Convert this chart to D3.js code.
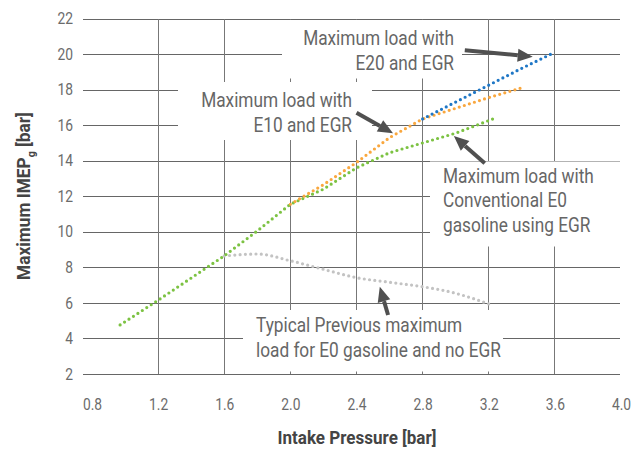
<!DOCTYPE html>
<html>
<head>
<meta charset="utf-8">
<script src="https://cdn.jsdelivr.net/npm/d3@7"></script>
<style>
  body { margin: 0; background: #fff; }
  svg { display: block; }
  text { font-family: Roboto, "Liberation Sans", sans-serif; }
  .tick text { fill: #6b6b6b; font-size: 16px; }
  .axis-title { fill: #444; font-weight: bold; font-size: 18px; }
  .note { fill: #666; font-size: 20px; }
</style>
</head>
<body>
<svg id="chart"></svg>
<script>
// Intake pressure [bar] vs maximum IMEPg [bar]
const xE0Egr = [0.97, 1.2, 1.6, 1.8, 2.0, 2.2, 2.4, 2.6, 2.8, 3.0, 3.24];
const yE0Egr = [4.76, 6.15, 8.65, 10.05, 11.55, 12.4, 13.6, 14.45, 15.0, 15.55, 16.4];

const xE10Egr = [2.0, 2.2, 2.4, 2.6, 2.8, 3.0, 3.2, 3.4];
const yE10Egr = [11.55, 12.65, 13.9, 15.3, 16.35, 16.95, 17.55, 18.1];

const xE20Egr = [2.8, 3.0, 3.2, 3.4, 3.6];
const yE20Egr = [16.35, 17.3, 18.25, 19.2, 20.1];

const xE0NoEgr = [1.6, 1.8, 2.0, 2.2, 2.4, 2.6, 2.8, 3.0, 3.2];
const yE0NoEgr = [8.64, 8.75, 8.37, 7.89, 7.42, 7.16, 6.91, 6.54, 5.94];

const xTicks = [0.8, 1.2, 1.6, 2.0, 2.4, 2.8, 3.2, 3.6, 4.0];
const yTicks = [2, 4, 6, 8, 10, 12, 14, 16, 18, 20, 22];
const xGrid = [1.2, 1.6, 2.0, 2.4, 2.8, 3.2, 3.6];

const width = 637, height = 449;
const plot = { left: 83, right: 620, top: 18.5, bottom: 374 };

const svg = d3.select('#chart')
    .attr('width', width)
    .attr('height', height);

const x = d3.scaleLinear().domain([0.8, 4.0]).range([92, 621]);
const y = d3.scaleLinear().domain([2, 22]).range([plot.bottom, plot.top]);

// no condensed font installed, so squeeze text horizontally around its anchor x
function squeeze(sel, k) {
    sel.each(function() {
        const ax = +d3.select(this).attr('x') || 0;
        d3.select(this).attr('transform', `translate(${ax},0) scale(${k},1) translate(${-ax},0)`);
    });
}

// horizontal gridlines + y labels
const yAxisG = svg.append('g')
    .attr('transform', `translate(${plot.left},0)`)
    .call(d3.axisLeft(y).tickValues(yTicks).tickSize(-(plot.right - plot.left)).tickPadding(10))
    .call(g => g.select('.domain').remove());
yAxisG.selectAll('.tick line').attr('stroke', '#666').attr('shape-rendering', 'crispEdges');

// vertical gridlines
svg.append('g').selectAll('line')
    .data(xGrid)
    .join('line')
    .attr('x1', d => x(d)).attr('x2', d => x(d))
    .attr('y1', plot.top).attr('y2', plot.bottom)
    .attr('stroke', '#777')
    .attr('shape-rendering', 'crispEdges');

// x labels
svg.append('g')
    .attr('transform', `translate(0,${plot.bottom})`)
    .call(d3.axisBottom(x).tickValues(xTicks).tickFormat(d3.format('.1f')).tickSize(0).tickPadding(25))
    .call(g => g.select('.domain').remove());

svg.selectAll('.tick text').attr('font-family', null).attr('font-size', null);

// white boxes behind the notes
const boxes = [
    { x0: 282, x1: 462, y0: 20, y1: 78.5 },
    { x0: 178, x1: 372, y0: 82, y1: 140 },
    { x0: 430, x1: 625, y0: 161.5, y1: 246.5 },
    { x0: 243, x1: 503, y0: 310, y1: 371.5 }
];
svg.append('g').selectAll('rect')
    .data(boxes)
    .join('rect')
    .attr('x', d => d.x0).attr('y', d => d.y0)
    .attr('width', d => d.x1 - d.x0).attr('height', d => d.y1 - d.y0)
    .attr('fill', '#fff');

// series
const series = [
    { xs: xE0NoEgr, ys: yE0NoEgr, color: '#c3c3c3', curve: d3.curveMonotoneX },
    { xs: xE0Egr, ys: yE0Egr, color: '#7cc242', curve: d3.curveLinear },
    { xs: xE10Egr, ys: yE10Egr, color: '#f9a73e', curve: d3.curveLinear },
    { xs: xE20Egr, ys: yE20Egr, color: '#1f77c6', curve: d3.curveLinear }
];

series.forEach(s => {
    const pts = s.xs.map((v, i) => [v, s.ys[i]]);
    svg.append('path')
        .datum(pts)
        .attr('fill', 'none')
        .attr('stroke', s.color)
        .attr('stroke-width', 3.2)
        .attr('stroke-linecap', 'round')
        .attr('stroke-dasharray', '0 5.3')
        .attr('d', d3.line().x(d => x(d[0])).y(d => y(d[1])).curve(s.curve));
});

// notes
const notes = [
    { lines: ['Maximum load with', 'E20 and EGR'], x: 454, y: 45, anchor: 'end', lh: 25 },
    { lines: ['Maximum load with', 'E10 and EGR'], x: 352, y: 107.5, anchor: 'end', lh: 25 },
    { lines: ['Maximum load with', 'Conventional E0', 'gasoline using EGR'], x: 443, y: 183, anchor: 'start', lh: 24.5 },
    { lines: ['Typical Previous maximum', 'load for E0 gasoline and no EGR'], x: 256, y: 332.5, anchor: 'start', lh: 24.8 }
];
const noteTexts = notes.map(n => {
    const t = svg.append('text')
        .attr('class', 'note')
        .attr('x', n.x)
        .attr('text-anchor', n.anchor);
    n.lines.forEach((l, i) => {
        t.append('tspan').attr('x', n.x).attr('y', n.y + i * n.lh).text(l);
    });
    return t;
});
// reference width of "Maximum load with" is about 151px
const kNote = 151 / noteTexts[0].select('tspan').node().getComputedTextLength();
noteTexts.forEach(t => squeeze(t, kNote));
squeeze(svg.selectAll('.tick text'), kNote);

// arrows, tail -> tip in data units
const arrows = [
    { from: [3.055, 20.22], to: [3.466, 19.85] },
    { from: [2.400, 16.70], to: [2.621, 15.54] },
    { from: [3.176, 13.85], to: [2.989, 15.39] },
    { from: [2.591, 5.32], to: [2.541, 6.91] }
];
arrows.forEach(a => {
    const x0 = x(a.from[0]), y0 = y(a.from[1]);
    const x1 = x(a.to[0]), y1 = y(a.to[1]);
    const ang = Math.atan2(y1 - y0, x1 - x0);
    const headLen = 15, headW = 6.5;
    const bx = x1 - headLen * Math.cos(ang), by = y1 - headLen * Math.sin(ang);
    svg.append('line')
        .attr('x1', x0).attr('y1', y0).attr('x2', bx).attr('y2', by)
        .attr('stroke', '#505050').attr('stroke-width', 4);
    const px = -Math.sin(ang) * headW, py = Math.cos(ang) * headW;
    svg.append('path')
        .attr('d', `M${x1},${y1}L${bx + px},${by + py}L${bx - px},${by - py}Z`)
        .attr('fill', '#505050');
});

// axis titles
const xt = svg.append('text')
    .attr('class', 'axis-title')
    .attr('x', 357)
    .attr('y', 444)
    .attr('text-anchor', 'middle')
    .text('Intake Pressure [bar]');
squeeze(xt, 159 / xt.node().getComputedTextLength());

const ytG = svg.append('g').attr('transform', 'translate(30,196) rotate(-90)');
const yt = ytG.append('text')
    .attr('class', 'axis-title')
    .attr('text-anchor', 'middle');
yt.append('tspan').text('Maximum IMEP');
yt.append('tspan').attr('dy', 5).attr('font-size', 11).text('g');
yt.append('tspan').attr('dy', -5).text(' [bar]');
squeeze(yt, 168 / yt.node().getBBox().width);
</script>
</body>
</html>
